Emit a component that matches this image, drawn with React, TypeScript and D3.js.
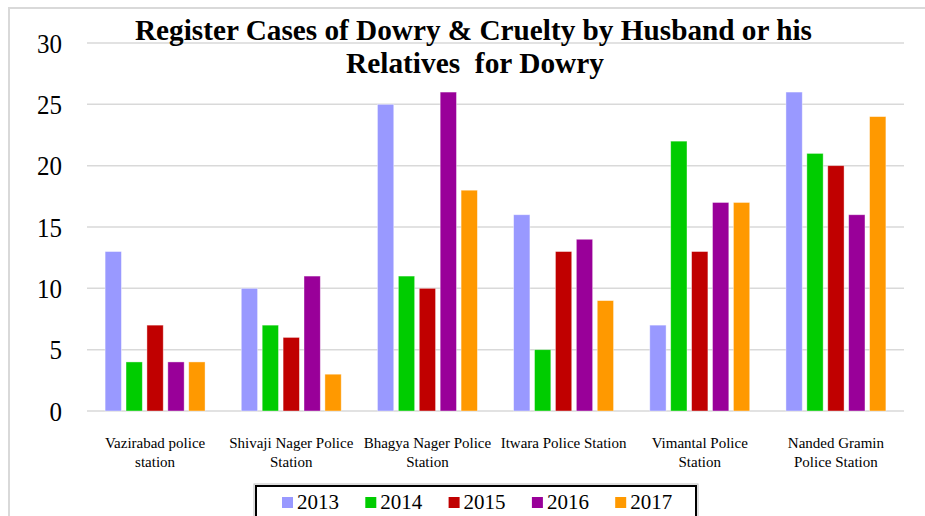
import React from "react";
import * as d3 from "d3";

const categories = [
  ["Vazirabad police", "station"],
  ["Shivaji Nager Police", "Station"],
  ["Bhagya Nager Police", "Station"],
  ["Itwara Police Station"],
  ["Vimantal Police", "Station"],
  ["Nanded Gramin", "Police Station"],
];
const years = ["2013", "2014", "2015", "2016", "2017"];
const colors = ["#9999FF", "#00CC00", "#C00000", "#990099", "#FF9900"];
const values2013 = [13, 10, 25, 16, 7, 26];
const values2014 = [4, 7, 11, 5, 22, 21];
const values2015 = [7, 6, 10, 13, 13, 20];
const values2016 = [4, 11, 26, 14, 17, 16];
const values2017 = [4, 3, 18, 9, 17, 24];
const series = [values2013, values2014, values2015, values2016, values2017];
const yTicks = [0, 5, 10, 15, 20, 25, 30];

const W = 925;
const H = 516;
const serifStyle = { fontFamily: "'Liberation Serif', 'Times New Roman', serif" };

export default function App() {
  const catKeys = categories.map((c) => c.join(" "));
  const x0 = d3
    .scaleBand<string>()
    .domain(catKeys)
    .range([87, 904])
    .paddingInner(0.266)
    .paddingOuter(0.133);
  const x1 = d3
    .scaleBand<string>()
    .domain(years)
    .range([0, x0.bandwidth()])
    .paddingInner(0.22);
  const y = d3.scaleLinear().domain([0, 30]).range([411, 43]);

  return (
    <svg
      width={W}
      height={H}
      style={{ position: "absolute", left: 0, top: 0, background: "#fff" }}
    >
      <rect x={0} y={0} width={W} height={H} fill="#fff" />
      <rect x={9} y={8} width={1000} height={1000} fill="none" stroke="#d9d9d9" strokeWidth={2} />
      {yTicks.map((t) => (
        <g key={t}>
          <line x1={87} x2={904} y1={y(t)} y2={y(t)} stroke="#d9d9d9" strokeWidth={1.5} />
          <text
            x={62}
            y={y(t) + 9.5}
            textAnchor="end"
            style={serifStyle}
            fontSize={28}
            fill="#000"
            textLength={t < 10 ? 12.5 : 25}
            lengthAdjust="spacingAndGlyphs"
          >
            {String(t)}
          </text>
        </g>
      ))}
      {catKeys.map((k, i) => (
        <g key={k} transform={`translate(${x0(k)},0)`}>
          {series.map((s, j) => (
            <rect
              key={j}
              x={x1(years[j])}
              y={y(s[i])}
              width={x1.bandwidth()}
              height={y(0) - y(s[i])}
              fill={colors[j]}
              stroke="rgba(255,255,255,0.5)"
              strokeWidth={0.8}
            />
          ))}
        </g>
      ))}
      {categories.map((lines, i) => {
        const cx = (x0(catKeys[i]) as number) + x0.bandwidth() / 2;
        return (
          <text key={i} textAnchor="middle" style={serifStyle} fontSize={15} fill="#000">
            {lines.map((l, li) => (
              <tspan key={li} x={cx} y={448 + li * 19}>
                {l}
              </tspan>
            ))}
          </text>
        );
      })}
      <text
        x={473.5}
        y={40}
        textAnchor="middle"
        style={serifStyle}
        fontWeight="bold"
        fontSize={30}
        textLength={677}
        lengthAdjust="spacingAndGlyphs"
      >
        Register Cases of Dowry &amp; Cruelty by Husband or his
      </text>
      <text
        x={475}
        y={73}
        textAnchor="middle"
        style={{ ...serifStyle, whiteSpace: "pre" }}
        fontWeight="bold"
        fontSize={30}
        textLength={258}
        lengthAdjust="spacingAndGlyphs"
      >
        {"Relatives  for Dowry"}
      </text>
      <rect x={254} y={484} width={444} height={40} fill="none" stroke="#bfbfbf" strokeWidth={1} />
      <rect x={256} y={486} width={440} height={40} fill="#fff" stroke="#000" strokeWidth={2} />
      {years.map((yr, j) => {
        const lx = 282 + j * 83.3;
        return (
          <g key={yr}>
            <rect x={lx} y={497} width={11} height={11} fill={colors[j]} />
            <text x={lx + 15} y={509} style={serifStyle} fontSize={21} fill="#000">
              {yr}
            </text>
          </g>
        );
      })}
    </svg>
  );
}
